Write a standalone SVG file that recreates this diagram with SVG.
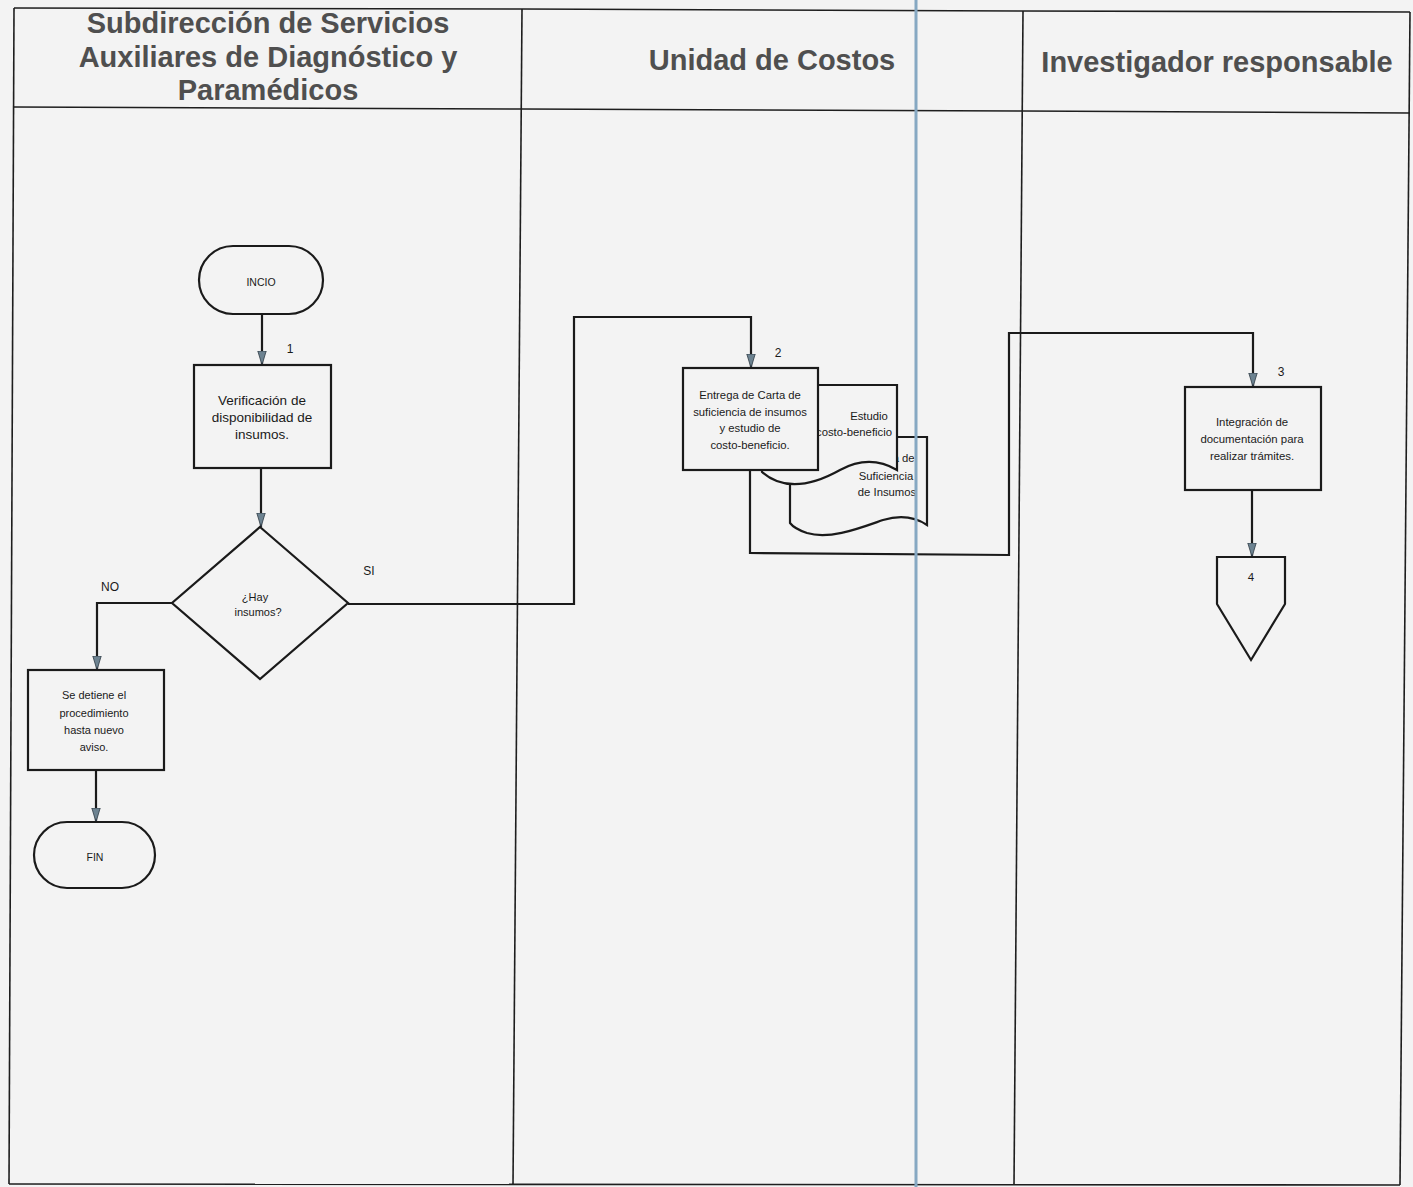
<svg xmlns="http://www.w3.org/2000/svg" width="1413" height="1187" viewBox="0 0 1413 1187">
<defs>
<style>
.frame{fill:none;stroke:#1e1e1e;stroke-width:1.6}
.hdr{font-family:"Liberation Sans",Arial,sans-serif;font-weight:bold;font-size:29px;fill:#4f4f4f;text-anchor:middle}
.shape{fill:#f3f3f3;stroke:#1a1a1a;stroke-width:2.2}
.t{font-family:"Liberation Sans",Arial,sans-serif;fill:#1a1a1a;text-anchor:middle}
.conn{fill:none;stroke:#1a1a1a;stroke-width:2.2}
.lbl{font-family:"Liberation Sans",Arial,sans-serif;font-size:12px;fill:#1a1a1a;text-anchor:middle}
</style>
<marker id="arr" markerUnits="userSpaceOnUse" markerWidth="15" markerHeight="10" refX="14" refY="5" orient="auto" viewBox="0 0 15 10">
<path d="M0,0.8 L14,5 L0,9.2 Z" fill="#6d8391" stroke="#2d3a44" stroke-width="0.8"/>
</marker>
</defs>
<rect x="0" y="0" width="1413" height="1187" fill="#f3f3f3"/>
<g id="lanes">
<polyline class="frame" points="14,8 522,9 1023,11 1410,12"/>
<polyline class="frame" points="14,107 522,109 1023,111 1410,113"/>
<line class="frame" x1="14" y1="8" x2="9" y2="1184"/>
<line class="frame" x1="522" y1="9" x2="513" y2="1185"/>
<line class="frame" x1="1023" y1="11" x2="1014" y2="1185"/>
<line class="frame" x1="1410" y1="12" x2="1400" y2="1185"/>
<line class="frame" x1="9" y1="1184" x2="1400" y2="1185"/>
<text class="hdr" x="268" y="33">Subdirección de Servicios</text>
<text class="hdr" x="268" y="67">Auxiliares de Diagnóstico y</text>
<text class="hdr" x="268" y="100">Paramédicos</text>
<text class="hdr" x="772" y="70">Unidad de Costos</text>
<text class="hdr" x="1217" y="72">Investigador responsable</text>
</g>
<g id="connectors">
<path class="conn" d="M262,313 V365" marker-end="url(#arr)"/>
<path class="conn" d="M261,468 V527" marker-end="url(#arr)"/>
<path class="conn" d="M172,603 H97 V670" marker-end="url(#arr)"/>
<path class="conn" d="M96,769 V822" marker-end="url(#arr)"/>
<path class="conn" d="M348,604 H574 V317 H751 V368" marker-end="url(#arr)"/>
<path class="conn" d="M750,470 V553 L1009,555 V333 H1253 V387" marker-end="url(#arr)"/>
<path class="conn" d="M1252,490 V557" marker-end="url(#arr)"/>
<text class="lbl" x="290" y="353">1</text>
<text class="lbl" x="110" y="591">NO</text>
<text class="lbl" x="369" y="575">SI</text>
<text class="lbl" x="778" y="357">2</text>
<text class="lbl" x="1281" y="376">3</text>
</g>
<g id="inicio">
<rect class="shape" x="199" y="246" width="124" height="68" rx="34" ry="34"/>
<text class="t" x="261" y="286" font-size="10.5">INCIO</text>
</g>
<g id="n1">
<rect class="shape" x="194" y="365" width="137" height="103"/>
<text class="t" x="262" y="405" font-size="13.5">Verificación de</text>
<text class="t" x="262" y="422" font-size="13.5">disponibilidad de</text>
<text class="t" x="262" y="439" font-size="13.5">insumos.</text>
</g>
<g id="decision">
<polygon class="shape" points="260,527 348,603 260,679 172,603"/>
<text class="t" x="255" y="601" font-size="11">¿Hay</text>
<text class="t" x="258" y="616" font-size="11">insumos?</text>
</g>
<g id="detiene">
<rect class="shape" x="28" y="670" width="136" height="100"/>
<text class="t" x="94" y="699" font-size="11">Se detiene el</text>
<text class="t" x="94" y="717" font-size="11">procedimiento</text>
<text class="t" x="94" y="734" font-size="11">hasta nuevo</text>
<text class="t" x="94" y="751" font-size="11">aviso.</text>
</g>
<g id="fin">
<rect class="shape" x="34" y="822" width="121" height="66" rx="33" ry="33"/>
<text class="t" x="95" y="861" font-size="10.5">FIN</text>
</g>
<g id="doc-carta">
<path class="shape" d="M790,437 H927 V525 C915,517 900,515 883,520 C860,528 830,540 807,533 C798,530 793,527 790,523 Z"/>
<text class="t" x="893" y="462" font-size="11.3">Carta de</text>
<text class="t" x="886" y="480" font-size="11.3">Suficiencia</text>
<text class="t" x="887" y="496" font-size="11.3">de Insumos</text>
</g>
<g id="doc-estudio">
<path class="shape" d="M762,385 H897 V470 C880,460 862,458 840,470 C815,484 785,492 762,472 Z"/>
<text class="t" x="869" y="420" font-size="11.3">Estudio</text>
<text class="t" x="854" y="436" font-size="11.3">costo-beneficio</text>
</g>
<g id="n2">
<rect class="shape" x="683" y="368" width="135" height="102"/>
<text class="t" x="750" y="399" font-size="11.3">Entrega de Carta de</text>
<text class="t" x="750" y="416" font-size="11.3">suficiencia de insumos</text>
<text class="t" x="750" y="432" font-size="11.3">y estudio de</text>
<text class="t" x="750" y="449" font-size="11.3">costo-beneficio.</text>
</g>
<g id="n3">
<rect class="shape" x="1185" y="387" width="136" height="103"/>
<text class="t" x="1252" y="426" font-size="11.4">Integración de</text>
<text class="t" x="1252" y="443" font-size="11.4">documentación para</text>
<text class="t" x="1252" y="460" font-size="11.4">realizar trámites.</text>
</g>
<g id="offpage4">
<polygon class="shape" points="1217,557 1285,557 1285,604 1251,660 1217,604"/>
<text class="t" x="1251" y="581" font-size="11.5">4</text>
</g>
<line x1="916" y1="0" x2="916" y2="1187" stroke="#86a8c2" stroke-width="3"/>
</svg>
